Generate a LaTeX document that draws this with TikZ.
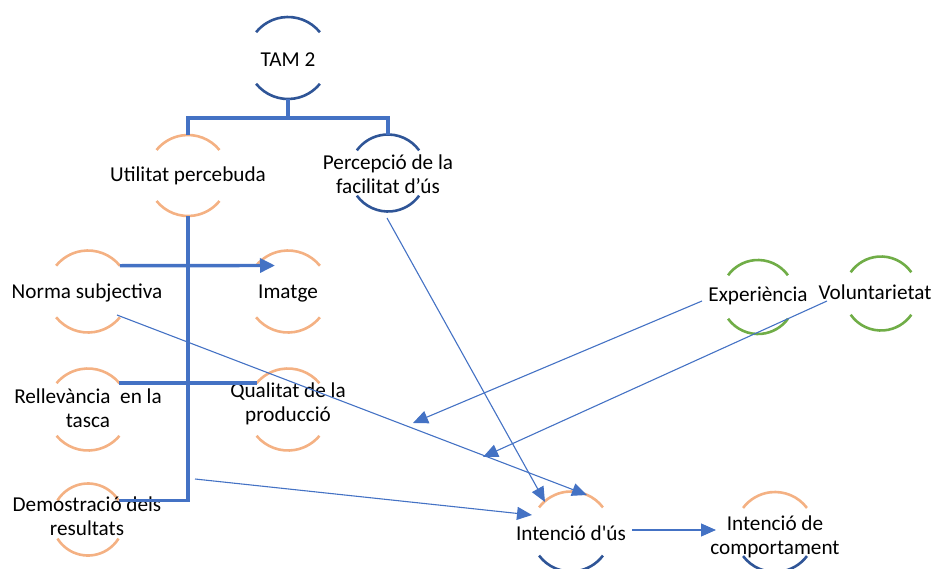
\documentclass[tikz,border=0pt]{standalone}
\usepackage{fontspec}
\setmainfont{Carlito}[Ligatures=TeXOff]
\usetikzlibrary{arrows.meta,calc}
\definecolor{arcblue}{HTML}{2F5597}
\definecolor{lineblue}{HTML}{4472C4}
\definecolor{arcorange}{HTML}{F4B183}
\definecolor{arcgreen}{HTML}{70AD47}

% top and bottom arcs of a ring: #1 centre, #2 radius, #3 half angle, #4 top colour, #5 bottom colour
\newcommand\ringarcs[5]{%
  \draw[ring,#4] ($(#1)+({#2*cos(#3)},{-#2*sin(#3)})$)
    arc[start angle=#3, end angle=180-#3, radius=#2pt];
  \draw[ring,#5] ($(#1)+({-#2*cos(#3)},{#2*sin(#3)})$)
    arc[start angle=180+#3, end angle=360-#3, radius=#2pt];
}

\begin{document}
\begin{tikzpicture}[x=1pt,y=-1pt,
  label/.style={font=\fontsize{21.2}{23.5}\selectfont, text=black, inner sep=0pt,
                align=center, anchor=base},
  ring/.style={line width=2.6pt},
  tree/.style={draw=lineblue, line width=3.4pt},
  treearrow/.style={tree, -{Triangle[length=15pt,width=14pt]}},
  link/.style={draw=lineblue, line width=1.1pt, -{Triangle[length=15pt,width=13pt]}},
]
\useasboundingbox (0,0) rectangle (935,568);

% ring centres
\coordinate (tam-c) at (288,58);
\coordinate (up-c)  at (188,175.5);
\coordinate (pf-c)  at (388,173);
\coordinate (ns-c)  at (88,291.5);
\coordinate (im-c)  at (288,291.5);
\coordinate (rt-c)  at (88,409.5);
\coordinate (qp-c)  at (288,409.5);
\coordinate (dr-c)  at (88,519.5);
\coordinate (ex-c)  at (758,297);
\coordinate (vo-c)  at (881,293.5);
\coordinate (iu-c)  at (571,531.5);
\coordinate (ic-c)  at (775,532);

% rings
\ringarcs{tam-c}{41}{39}{arcblue}{arcblue}
\ringarcs{up-c}{40.5}{39}{arcorange}{arcorange}
\ringarcs{pf-c}{38.5}{36}{arcblue}{arcblue}
\ringarcs{ns-c}{41}{39}{arcorange}{arcorange}
\ringarcs{im-c}{41}{39}{arcorange}{arcorange}
\ringarcs{rt-c}{41}{40}{arcorange}{arcorange}
\ringarcs{qp-c}{41}{40}{arcorange}{arcorange}
\ringarcs{dr-c}{36}{32}{arcorange}{arcorange}
\ringarcs{ex-c}{37}{36}{arcgreen}{arcgreen}
\ringarcs{vo-c}{37}{35}{arcgreen}{arcgreen}
\ringarcs{iu-c}{40}{37}{arcorange}{arcblue}
\ringarcs{ic-c}{40}{37}{arcorange}{arcblue}

% labels (anchored at the baseline of the last line)
\node[label] (tam) at (288,66)  {TAM 2};
\node[label] (up)  at (188,181) {Utilitat percebuda};
\node[label] (pf)  at (388,193) {Percepció de la\\facilitat d’ús};
\node[label] (ns)  at (87,298)  {Norma subjectiva};
\node[label] (im)  at (288,298) {Imatge};
\node[label] (rt)  at (88,427)  {Rellevància\ \ en la\\tasca};
\node[label] (qp)  at (288,421) {Qualitat de la\\producció};
\node[label] (dr)  at (87,535)  {Demostració dels\\resultats};
\node[label] (ex)  at (758,301) {Experiència};
\node[label] (vo)  at (875,299) {Voluntarietat};
\node[label] (iu)  at (571,540) {Intenció d'ús};
\node[label] (ic)  at (775,554) {Intenció de\\comportament};

% hierarchy
\draw[tree] ($(tam-c)+(0,41)$) -- ++(0,19) coordinate (j1);
\draw[tree] ($(up-c)+(0,-40.5)$) |- (j1) -| ($(pf-c)+(0,-38.5)$);
\draw[tree] ($(up-c)+(0,40.5)$) |- ($(dr-c)+(-32:36)$);
\draw[tree] ($(rt-c)+(-40:41)$) -- ($(qp-c)+(-140:41)$);
\draw[treearrow] ($(ns-c)+(-39:41)$) -- ($(im-c)+(-13,-26)$);

% influences
\coordinate (ex-end) at (413,423);
\coordinate (vo-end) at (483,457);
\draw[link] ($(pf-c)+(-1,45)$) -- ($(iu-c)+(-26,-29.5)$);
\draw[link] ($(ns-c)+(29,23.5)$) -- ($(iu-c)+(16,-36.5)$);
\draw[link] ($(ex-c)+(-56,4)$) -- (ex-end);
\draw[link] ($(vo-c)+(-54,7.5)$) -- (vo-end);
\draw[link] ($(up-c)+(7,303.5)$) -- ($(iu-c)+(-39,-16.5)$);
\draw[link] ($(iu-c)+(61,-1.5)$) -- ($(ic-c)+(-59,-2)$);
\end{tikzpicture}
\end{document}
